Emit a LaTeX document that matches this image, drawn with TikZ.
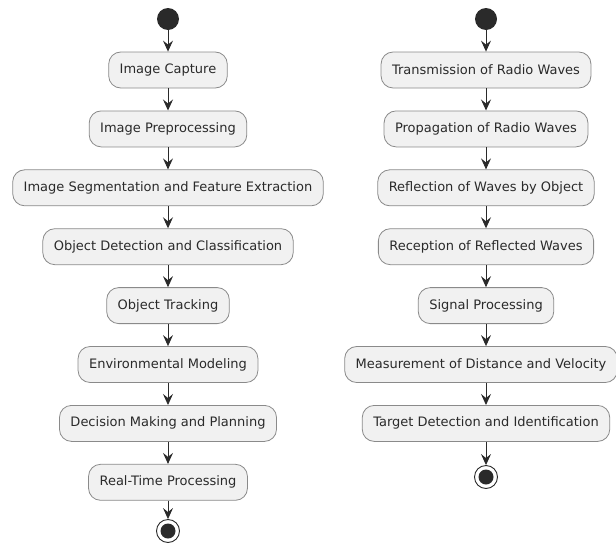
\documentclass[tikz,border=0pt]{standalone}
\usepackage{fontspec}
\setmainfont{DejaVu Sans}
\usetikzlibrary{arrows.meta, positioning}
\definecolor{actfill}{HTML}{F1F1F1}
\definecolor{actline}{HTML}{8A8A8A}
\definecolor{actdark}{HTML}{2A2A2A}

\begin{document}
\begin{tikzpicture}[x=1pt, y=-1pt, font=\fontsize{13}{15}\selectfont, text=actdark,
    act/.style={draw=actline, fill=actfill, line width=0.8pt, rounded corners=12pt,
                minimum height=36pt, inner xsep=11pt, inner ysep=0pt},
    startdot/.style={circle, fill=actdark, minimum size=22pt, inner sep=0pt},
    enddot/.style={circle, draw=actdark, line width=0.9pt, fill=white, minimum size=23pt, inner sep=0pt,
                   path picture={\fill[actdark] (path picture bounding box.center) circle (7.5pt);}},
    flow/.style={draw=actdark, line width=0.9pt, -{Stealth[length=11pt, width=10pt, inset=4pt]}}]
  \useasboundingbox (0,0) rectangle (616,544);
  % camera pipeline
  \begin{scope}
    \node[startdot] (ls) at (168,19) {};
    \foreach \t [count=\i] in {Image Capture, Image Preprocessing, Image Segmentation and Feature Extraction,
        Object Detection and Classification, Object Tracking, Environmental Modeling,
        Decision Making and Planning, Real-Time Processing}
      \node[act] (l\i) at (168,{70+58.9*(\i-1)}) {\t};
    \node[enddot] (le) at (168,531) {};
    \draw[flow] (ls) -- (l1);
    \foreach \i [evaluate=\i as \n using int(\i+1)] in {1,...,7} \draw[flow] (l\i) -- (l\n);
    \draw[flow] (l8) -- (le);
  \end{scope}
  % radar pipeline
  \begin{scope}
    \node[startdot] (rs) at (486,19) {};
    \foreach \t/\x [count=\i] in {Transmission of Radio Waves/486, Propagation of Radio Waves/486,
        Reflection of Waves by Object/486, Reception of Reflected Waves/486, Signal Processing/486,
        Measurement of Distance and Velocity/481, Target Detection and Identification/486}
      \node[act] (r\i) at (\x,{70+58.9*(\i-1)}) {\t};
    \node[enddot] (re) at (486,477) {};
    \draw[flow] (rs) -- (r1);
    \foreach \i [evaluate=\i as \n using int(\i+1)] in {1,...,6} \draw[flow] (r\i.south -| rs) -- (r\n.north -| rs);
    \draw[flow] (r7) -- (re);
  \end{scope}
\end{tikzpicture}
\end{document}
